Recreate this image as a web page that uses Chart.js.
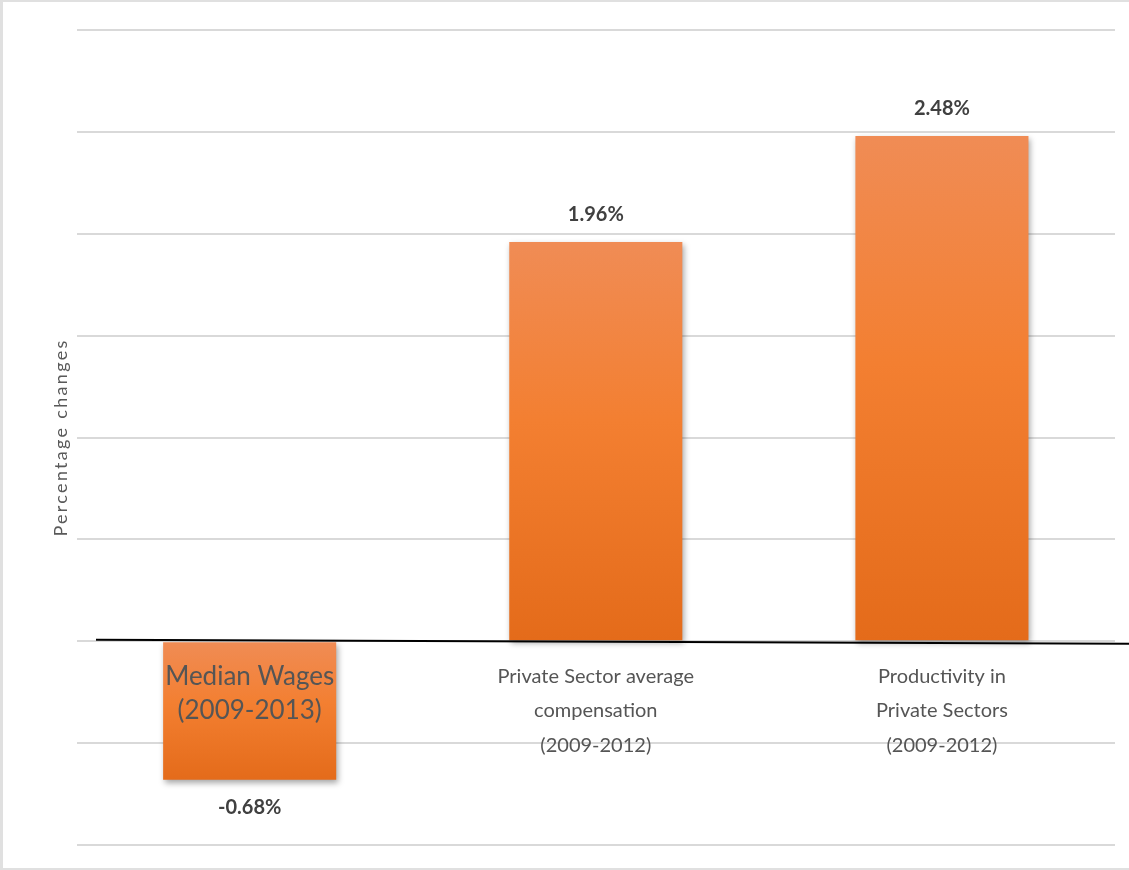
<!DOCTYPE html>
<html>
<head>
<meta charset="utf-8">
<script src="https://cdn.jsdelivr.net/npm/chart.js@4"></script>
<style>
  html, body { margin: 0; padding: 0; background: #fff; }
  #wrap { position: relative; width: 1129px; height: 870px; box-sizing: border-box;
          border-top: 2px solid #e0e0e0; border-left: 3px solid #e0e0e0; border-bottom: 2px solid #e0e0e0; }
  canvas { display: block; }
</style>
</head>
<body>
<div id="wrap"><canvas id="grafico" width="1126" height="866"></canvas></div>
<script>
// categorias e valores (variação percentual)
const categorias = [
  ['Median Wages', '(2009-2013)'],
  ['Private Sector average', 'compensation', '(2009-2012)'],
  ['Productivity in', 'Private Sectors', '(2009-2012)']
];
const valores = [-0.68, 1.96, 2.48];
const rotulos = ['-0.68%', '1.96%', '2.48%'];

const FONTE = 'Lato, "Open Sans", sans-serif';

// degradê laranja de cada barra, do topo para a base
function corBarra(c) {
  const chart = c.chart;
  const y = chart.scales.y;
  if (!chart.chartArea || !y) return '#f07e34';
  const v = c.raw;
  const topo = y.getPixelForValue(Math.max(v, 0));
  const base = y.getPixelForValue(Math.min(v, 0));
  const g = chart.ctx.createLinearGradient(0, topo, 0, base);
  g.addColorStop(0, '#f08c55');
  g.addColorStop(0.45, '#f37f31');
  g.addColorStop(1, '#e46b1a');
  return g;
}

// espaçamento entre letras só no título do eixo y (desenhado antes das barras)
// e sombra suave nas barras
const sombra = {
  id: 'sombra',
  beforeDraw(chart) {
    chart.ctx.letterSpacing = '2.3px';
  },
  beforeDatasetsDraw(chart) {
    const ctx = chart.ctx;
    ctx.letterSpacing = '0px';
    ctx.save();
    ctx.shadowColor = 'rgba(0,0,0,0.35)';
    ctx.shadowBlur = 6;
    ctx.shadowOffsetX = 2;
    ctx.shadowOffsetY = 3;
  },
  afterDatasetsDraw(chart) {
    chart.ctx.restore();
  }
};

// linha do zero e rótulos de valor
const extras = {
  id: 'extras',
  afterDatasetsDraw(chart) {
    const ctx = chart.ctx;
    const y = chart.scales.y;
    const zero = y.getPixelForValue(0);
    ctx.save();
    ctx.strokeStyle = '#000';
    ctx.lineWidth = 2;
    ctx.beginPath();
    ctx.moveTo(93, zero - 1.5);
    ctx.lineTo(chart.width, zero + 2.5);
    ctx.stroke();

    const meta = chart.getDatasetMeta(0);
    ctx.font = 'bold 20px ' + FONTE;
    ctx.fillStyle = '#404040';
    ctx.textAlign = 'center';
    ctx.textBaseline = 'middle';
    meta.data.forEach((bar, i) => {
      const v = valores[i];
      const py = v >= 0 ? bar.y - 27 : bar.y + 28;
      ctx.fillText(rotulos[i], bar.x, py);
    });
    ctx.restore();
  }
};

new Chart(document.getElementById('grafico'), {
  type: 'bar',
  data: {
    labels: categorias,
    datasets: [{
      data: valores,
      backgroundColor: corBarra,
      borderWidth: 0,
      barPercentage: 0.5,
      categoryPercentage: 1
    }]
  },
  options: {
    responsive: false,
    animation: false,
    devicePixelRatio: 1,
    layout: { padding: { left: 45, right: 14, top: 28, bottom: 23 } },
    plugins: { legend: { display: false }, tooltip: { enabled: false } },
    scales: {
      x: {
        position: { y: 0 },
        grid: { display: false, drawTicks: false },
        border: { display: false },
        ticks: {
          z: 1,
          color: '#555555',
          // o primeiro rótulo (sobre a barra) é maior
          font: (c) => c.index === 0
            ? { family: FONTE, size: 26, lineHeight: '34.5px' }
            : { family: FONTE, size: 20, lineHeight: '34.5px' },
          padding: 18,
          maxRotation: 0,
          autoSkip: false
        }
      },
      y: {
        min: -1,
        max: 3,
        grid: { color: '#d9d9d9', lineWidth: 2, drawTicks: false },
        border: { display: false },
        ticks: { display: false, stepSize: 0.5 },
        title: {
          display: true,
          text: 'Percentage changes',
          color: '#595959',
          font: { family: FONTE, size: 18 },
          padding: { top: 2, bottom: 5 }
        }
      }
    }
  },
  plugins: [sombra, extras]
});
</script>
</body>
</html>
